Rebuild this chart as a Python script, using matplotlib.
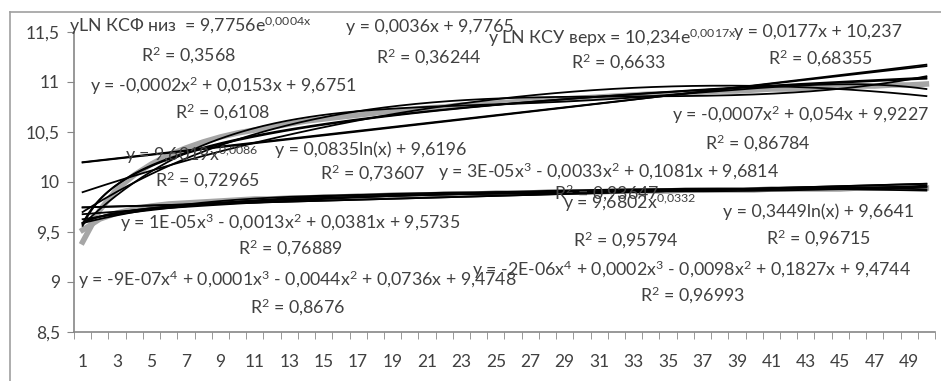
import numpy as np
import matplotlib
matplotlib.use('Agg')
import matplotlib.pyplot as plt
from matplotlib.lines import Line2D

plt.rcParams['font.family'] = ['Lato', 'DejaVu Sans']
plt.rcParams['mathtext.fontset'] = 'custom'
plt.rcParams['mathtext.rm'] = 'Lato'
plt.rcParams['mathtext.it'] = 'Lato'

# two data series
x = np.arange(1, 51)
ksu_verh = [9.40, 9.72, 9.93, 10.07, 10.18, 10.27, 10.34, 10.40, 10.45, 10.49,
            10.52, 10.55, 10.58, 10.61, 10.63, 10.65, 10.67, 10.69, 10.71, 10.72,
            10.74, 10.75, 10.77, 10.78, 10.79, 10.80, 10.81, 10.82, 10.83, 10.84,
            10.85, 10.86, 10.87, 10.88, 10.88, 10.89, 10.90, 10.91, 10.91, 10.92,
            10.93, 10.93, 10.94, 10.95, 10.95, 10.96, 10.96, 10.97, 10.97, 10.98]
ksf_niz = [9.52, 9.63, 9.69, 9.73, 9.76, 9.78, 9.79, 9.80, 9.81, 9.82,
           9.83, 9.83, 9.84, 9.84, 9.85, 9.85, 9.86, 9.86, 9.87, 9.87,
           9.87, 9.88, 9.88, 9.88, 9.89, 9.89, 9.89, 9.90, 9.90, 9.90,
           9.90, 9.91, 9.91, 9.91, 9.91, 9.92, 9.92, 9.92, 9.92, 9.92,
           9.93, 9.93, 9.93, 9.93, 9.93, 9.94, 9.94, 9.94, 9.94, 9.94]

# trendline labels: text, centre x px, centre y px
labels = [
    ('yLN КСФ низ  = 9,7756e$^{\\mathrm{0{,}0004x}}$', 190, 26),
    ('R$^2$ = 0,3568', 189, 55),
    ('y = 0,0036x + 9,7765', 430, 27),
    ('R$^2$ = 0,36244', 429, 57),
    ('y LN КСУ верх = 10,234e$^{\\mathrm{0{,}0017x}}$', 612, 38),
    ('R$^2$ = 0,6633', 618, 62),
    ('y = 0,0177x + 10,237', 818, 32),
    ('R$^2$ = 0,68355', 820, 58),
    ('y = -0,0002x$^2$ + 0,0153x + 9,6751', 223, 86),
    ('R$^2$ = 0,6108', 223, 112),
    ('y = -0,0007x$^2$ + 0,054x + 9,9227', 800, 115),
    ('R$^2$ = 0,86784', 758, 143),
    ('y = 9,6019x$^{\\mathrm{0{,}0086}}$', 192, 155),
    ('R$^2$ = 0,72965', 207, 180),
    ('y = 0,0835ln(x) + 9,6196', 371, 150),
    ('R$^2$ = 0,73607', 373, 173),
    ('y = 3E-05x$^3$ - 0,0033x$^2$ + 0,1081x + 9,6814', 608, 172),
    ('R$^2$ = 0,93647', 607, 193),
    ('y = 9,6802x$^{\\mathrm{0{,}0332}}$', 630, 203),
    ('R$^2$ = 0,95794', 626, 240),
    ('y = 0,3449ln(x) + 9,6641', 819, 212),
    ('R$^2$ = 0,96715', 818, 238),
    ('y = 1E-05x$^3$ - 0,0013x$^2$ + 0,0381x + 9,5735', 290, 223),
    ('R$^2$ = 0,76889', 290, 248),
    ('y = -9E-07x$^4$ + 0,0001x$^3$ - 0,0044x$^2$ + 0,0736x + 9,4748', 297, 280),
    ('R$^2$ = 0,8676', 298, 307),
    ('y = -2E-06x$^4$ + 0,0002x$^3$ - 0,0098x$^2$ + 0,1827x + 9,4744', 692, 270),
    ('R$^2$ = 0,96993', 693, 295),
]

W, H = 941, 381
fig = plt.figure(figsize=(W / 100, H / 100), dpi=100)
ax = fig.add_axes([74 / W, 1 - 332 / H, (935 - 74) / W, 300 / H])

xs = np.linspace(1, 50, 300)


def trends(y):
    y = np.asarray(y)
    out = []
    for deg in (1, 2, 3, 4):
        out.append(np.polyval(np.polyfit(x, y, deg), xs))
    b, a = np.polyfit(x, np.log(y), 1)
    out.append(np.exp(a) * np.exp(b * xs))
    b, a = np.polyfit(np.log(x), y, 1)
    out.append(a + b * np.log(xs))
    b, a = np.polyfit(np.log(x), np.log(y), 1)
    out.append(np.exp(a) * xs ** b)
    return out


for series in (ksu_verh, ksf_niz):
    ax.plot(x, series, color='#a6a6a6', lw=4, zorder=2)
for series in (ksu_verh, ksf_niz):
    for t in trends(series):
        ax.plot(xs, t, color='black', lw=1.3, zorder=3)

ax.set_xlim(0.5, 50.5)
ax.set_ylim(8.5, 11.5)
ax.set_yticks(np.arange(8.5, 11.51, 0.5))
ax.set_yticklabels(['8,5', '9', '9,5', '10', '10,5', '11', '11,5'])
ax.set_xticks(np.arange(1, 51, 2))
ax.set_xticks(np.arange(0.5, 50.6, 1), minor=True)
for s in ('top', 'right'):
    ax.spines[s].set_visible(False)
for s in ('left', 'bottom'):
    ax.spines[s].set_color('#868686')
    ax.spines[s].set_linewidth(1.2)
ax.tick_params(axis='y', length=5, color='#868686', labelsize=12.5,
               labelcolor='#404040', pad=5)
ax.tick_params(axis='x', which='major', length=0, labelsize=12.5,
               labelcolor='#404040', pad=16)
ax.tick_params(axis='x', which='minor', length=5, color='#868686')

for txt, px, py in labels:
    fig.text(px / W, 1 - py / H, txt, ha='center', va='center',
             fontsize=12.8, color='#404040', zorder=1)

# chart area border
fig.add_artist(Line2D([10 / W, 10 / W], [0, 1 - 12 / H], color='#a0a0a0', lw=1.2))
fig.add_artist(Line2D([10 / W, 1], [1 - 12 / H, 1 - 12 / H], color='#a0a0a0', lw=1.2))

fig.savefig('out.png', dpi=100)
